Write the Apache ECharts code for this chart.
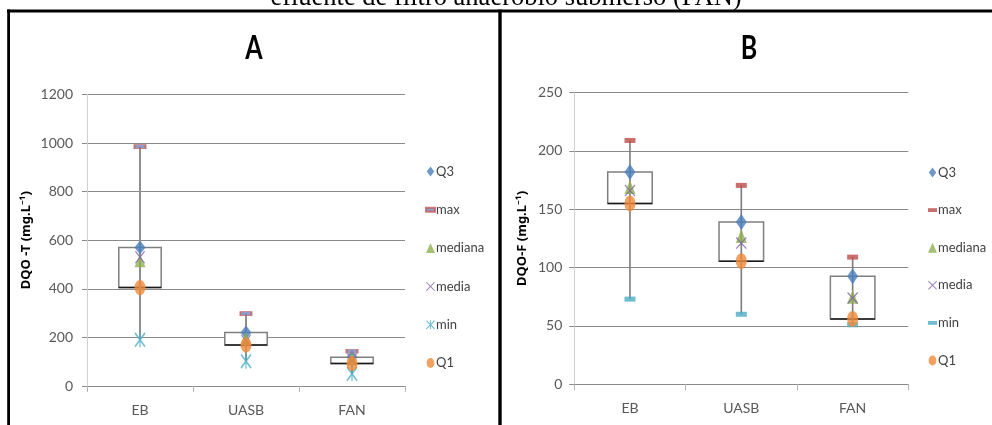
<!DOCTYPE html>
<html>
<head>
<meta charset="utf-8">
<script src="https://cdn.jsdelivr.net/npm/echarts@6/dist/echarts.min.js"></script>
<style>
  html, body { margin: 0; padding: 0; background: #fff; }
  #chart { width: 992px; height: 425px; }
</style>
</head>
<body>
<div id="chart"></div>
<script>
// Categories (treatment stages)
const categories = ['EB', 'UASB', 'FAN'];

// DQO total (mg/L) – panel A
const dqoT_Q3      = [570, 220, 118];
const dqoT_max     = [985, 298, 143];
const dqoT_mediana = [515, 195, 112];
const dqoT_media   = [530, 185, 108];
const dqoT_min     = [190, 102, 50];
const dqoT_Q1      = [405, 169, 93];

// DQO filtrada (mg/L) – panel B
const dqoF_Q3      = [182, 139, 92.7];
const dqoF_max     = [209, 170.5, 109];
const dqoF_mediana = [169, 127, 75];
const dqoF_media   = [166, 121, 74];
const dqoF_min     = [73, 60, 51];
const dqoF_Q1      = [155, 105.5, 56];

// Axis ranges
const axisA = { min: 0, max: 1200, interval: 200 };
const axisB = { min: 0, max: 250, interval: 50 };

const FONT = 'Lato, "Noto Sans", sans-serif';
const GRID_LINE = '#8a8a8a';

// marker shapes
const X_PATH = 'path://M0.8,0L10,9.2L9.2,10L0,0.8ZM9.2,0L10,0.8L0.8,10L0,9.2Z';
const STAR_PATH = 'path://M0.9,0L10,9.1L9.1,10L0,0.9ZM9.1,0L10,0.9L0.9,10L0,9.1ZM4.45,0L5.55,0L5.55,10L4.45,10Z';
const DASH_PATH = 'path://M0,0H7V3H0Z';
const DIAMOND_PATH = 'path://M3,0L6,4L3,8L0,4Z';
const TRI_PATH = 'path://M4.5,0L9,10L0,10Z';
const CIRC_PATH = 'path://M3.5,0A3.5,4.5,0,1,1,3.5,9A3.5,4.5,0,1,1,3.5,0Z';

function boxData(q1, q3) { return categories.map((c, i) => [i, q1[i], q3[i]]); }
function whiskerData(mn, mx) { return categories.map((c, i) => [i, mn[i], mx[i]]); }

function boxSeries(idx, q1, q3) {
  return {
    type: 'custom', name: 'box' + idx, xAxisIndex: idx, yAxisIndex: idx, z: 1,
    silent: true,
    encode: { x: 0, y: [1, 2] },
    data: boxData(q1, q3),
    renderItem: function (params, api) {
      const lo = api.coord([api.value(0), api.value(1)]);
      const hi = api.coord([api.value(0), api.value(2)]);
      const w = api.size([1, 0])[0] * 0.4;
      return {
        type: 'group',
        children: [
          { type: 'rect', shape: { x: lo[0] - w / 2, y: hi[1], width: w, height: lo[1] - hi[1] },
            style: { fill: '#ffffff', stroke: '#7f7f7f', lineWidth: 1.5 } },
          { type: 'line', shape: { x1: lo[0] - w / 2, y1: lo[1], x2: lo[0] + w / 2, y2: lo[1] },
            style: { stroke: '#1a1a1a', lineWidth: 1.5 } }
        ]
      };
    }
  };
}

function whiskerSeries(idx, mn, mx, color, width) {
  return {
    type: 'custom', name: 'whisker' + idx, xAxisIndex: idx, yAxisIndex: idx, z: 2,
    silent: true,
    encode: { x: 0, y: [1, 2] },
    data: whiskerData(mn, mx),
    renderItem: function (params, api) {
      const lo = api.coord([api.value(0), api.value(1)]);
      const hi = api.coord([api.value(0), api.value(2)]);
      return { type: 'line', shape: { x1: lo[0], y1: lo[1], x2: hi[0], y2: hi[1] },
               style: { stroke: color, lineWidth: width } };
    }
  };
}

function markerSeries(idx, prefix, name, data, symbol, size, itemStyle) {
  return {
    type: 'scatter', name: prefix + name, xAxisIndex: idx, yAxisIndex: idx, z: 3,
    symbol: symbol, symbolSize: size, data: data, itemStyle: itemStyle,
    emphasis: { disabled: true }
  };
}

const styles = {
  Q3: { color: '#4a7ebb' },
  maxA: { color: '#7483b6', borderColor: '#c65a5a', borderWidth: 1.2 },
  maxB: { color: '#be4b48' },
  mediana: { color: '#8fb050' },
  media: { color: '#8064a2' },
  min: { color: '#4bacc6' },
  Q1: { color: '#f08a38' }
};

function legendFor(prefix, left, top, gap, minIcon, maxIcon) {
  const names = ['Q3', 'max', 'mediana', 'media', 'min', 'Q1'];
  const icons = [DIAMOND_PATH, maxIcon, TRI_PATH, X_PATH, minIcon, CIRC_PATH];
  return {
    orient: 'vertical', left: left, top: top, itemGap: gap,
    itemWidth: 9, itemHeight: 10, selectedMode: false,
    data: names.map((n, i) => ({ name: prefix + n, icon: icons[i] })),
    formatter: n => n.slice(prefix.length),
    textStyle: { fontFamily: FONT, fontSize: 13, color: '#404040', padding: [0, 0, 0, -4] }
  };
}

function yAxisFor(idx, range, name, gap, margin) {
  return {
    gridIndex: idx, type: 'value', min: range.min, max: range.max, interval: range.interval,
    name: name, nameLocation: 'middle', nameGap: gap, nameRotate: 90,
    nameTextStyle: { fontFamily: '"Noto Sans", sans-serif', fontWeight: 'bold', fontSize: 13, color: '#000' },
    axisLine: { show: true, lineStyle: { color: '#d0d0d0', width: 1 } },
    axisTick: { show: true, length: 5, lineStyle: { color: GRID_LINE } },
    axisLabel: { fontFamily: FONT, fontSize: 14, color: '#595959', margin: margin,
                 formatter: v => String(v) },
    splitLine: { show: true, lineStyle: { color: GRID_LINE, width: 1 } }
  };
}

function xAxisFor(idx) {
  return {
    gridIndex: idx, type: 'category', data: categories, boundaryGap: true,
    axisLine: { show: true, lineStyle: { color: GRID_LINE, width: 1 } },
    axisTick: { show: true, length: 6, lineStyle: { color: '#b5b5b5' } },
    axisLabel: { fontFamily: FONT, fontSize: 14, color: '#595959', margin: 17 },
    splitLine: { show: false }
  };
}

const option = {
  animation: false,
  backgroundColor: '#ffffff',
  grid: [
    { left: 87, top: 94.4, width: 318, height: 291.6, outerBoundsMode: 'none' },
    { left: 574.3, top: 92.6, width: 334, height: 291.7, outerBoundsMode: 'none' }
  ],
  xAxis: [xAxisFor(0), xAxisFor(1)],
  yAxis: [
    yAxisFor(0, axisA, 'DQO -T (mg.L\u207B\u00B9)', 54, 14),
    yAxisFor(1, axisB, 'DQO-F (mg.L\u207B\u00B9)', 46, 12)
  ],
  legend: [
    legendFor('A:', 420, 160, 25.3, STAR_PATH, DASH_PATH),
    legendFor('B:', 923, 161, 24.6, DASH_PATH, DASH_PATH)
  ],
  graphic: [
    { type: 'text', x: 506, y: -2, z: 10,
      style: { text: 'efluente de filtro anaeróbio submerso (FAN)', font: '26.5px "Liberation Serif", "Times New Roman", serif',
               fill: '#000', align: 'center', verticalAlign: 'middle' } },
    { type: 'text', x: 254, y: 48.5, z: 10, scaleX: 0.78, originX: 0, originY: 0,
      style: { text: 'A', font: 'bold 32px ' + FONT, fill: '#000', align: 'center', verticalAlign: 'middle' } },
    { type: 'text', x: 749, y: 48.5, z: 10, scaleX: 0.78, originX: 0, originY: 0,
      style: { text: 'B', font: 'bold 32px ' + FONT, fill: '#000', align: 'center', verticalAlign: 'middle' } },
    { type: 'line', z: 10, shape: { x1: 7, y1: 11, x2: 992, y2: 11 }, style: { stroke: '#000', lineWidth: 3.2 } },
    { type: 'line', z: 10, shape: { x1: 8.6, y1: 9.5, x2: 8.6, y2: 425 }, style: { stroke: '#000', lineWidth: 2.8 } },
    { type: 'line', z: 10, shape: { x1: 500, y1: 9.5, x2: 500, y2: 425 }, style: { stroke: '#000', lineWidth: 3.4 } }
  ],
  series: [
    boxSeries(0, dqoT_Q1, dqoT_Q3),
    whiskerSeries(0, dqoT_min, dqoT_max, '#8f8f8f', 2),
    markerSeries(0, 'A:', 'Q3', dqoT_Q3, 'diamond', [11, 14], styles.Q3),
    markerSeries(0, 'A:', 'max', dqoT_max, 'rect', [11, 4], styles.maxA),
    markerSeries(0, 'A:', 'mediana', dqoT_mediana, 'triangle', [11, 13], styles.mediana),
    markerSeries(0, 'A:', 'media', dqoT_media, X_PATH, [10, 13], styles.media),
    markerSeries(0, 'A:', 'min', dqoT_min, STAR_PATH, [11, 15], styles.min),
    markerSeries(0, 'A:', 'Q1', dqoT_Q1, 'circle', [11, 15], styles.Q1),

    boxSeries(1, dqoF_Q1, dqoF_Q3),
    whiskerSeries(1, dqoF_min, dqoF_max, '#7a7a7a', 1.6),
    markerSeries(1, 'B:', 'Q3', dqoF_Q3, 'diamond', [11, 16], styles.Q3),
    markerSeries(1, 'B:', 'max', dqoF_max, 'rect', [11, 5], styles.maxB),
    markerSeries(1, 'B:', 'mediana', dqoF_mediana, 'triangle', [11, 14], styles.mediana),
    markerSeries(1, 'B:', 'media', dqoF_media, X_PATH, [11, 12], styles.media),
    markerSeries(1, 'B:', 'min', dqoF_min, 'rect', [11, 5], styles.min),
    markerSeries(1, 'B:', 'Q1', dqoF_Q1, 'circle', [11, 16], styles.Q1)
  ]
};

const chart = echarts.init(document.getElementById('chart'), null, { renderer: 'canvas' });
chart.setOption(option);
</script>
</body>
</html>
